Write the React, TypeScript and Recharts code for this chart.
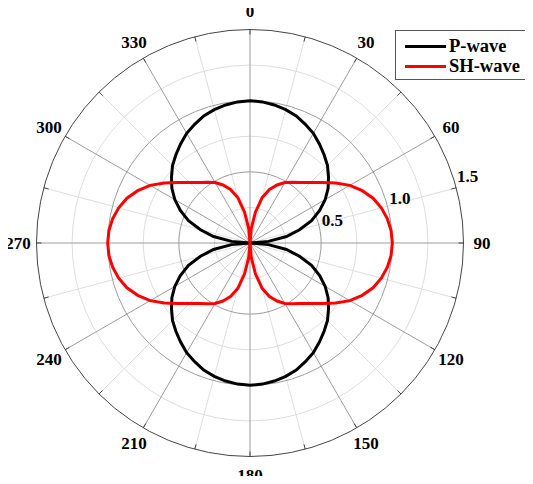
import { RadarChart, Radar, PolarGrid, PolarAngleAxis, PolarRadiusAxis } from 'recharts';

// compass angles, clockwise from the top, every 5 degrees
const ANGLES = [
  0, 5, 10, 15, 20, 25, 30, 35, 40, 45, 50, 55, 60, 65, 70, 75, 80, 85,
  90, 95, 100, 105, 110, 115, 120, 125, 130, 135, 140, 145, 150, 155, 160, 165, 170, 175,
  180, 185, 190, 195, 200, 205, 210, 215, 220, 225, 230, 235, 240, 245, 250, 255, 260, 265,
  270, 275, 280, 285, 290, 295, 300, 305, 310, 315, 320, 325, 330, 335, 340, 345, 350, 355,
];

const P_WAVE = [
  1.0, 0.995, 0.985, 0.97, 0.95, 0.92, 0.89, 0.85, 0.81, 0.77, 0.72, 0.67, 0.61, 0.54, 0.46, 0.36, 0.26, 0.13,
  0, 0.13, 0.26, 0.36, 0.46, 0.54, 0.61, 0.67, 0.72, 0.77, 0.81, 0.85, 0.89, 0.92, 0.95, 0.97, 0.985, 0.995,
  1.0, 0.995, 0.985, 0.97, 0.95, 0.92, 0.89, 0.85, 0.81, 0.77, 0.72, 0.67, 0.61, 0.54, 0.46, 0.36, 0.26, 0.13,
  0, 0.13, 0.26, 0.36, 0.46, 0.54, 0.61, 0.67, 0.72, 0.77, 0.81, 0.85, 0.89, 0.92, 0.95, 0.97, 0.985, 0.995,
];

const SH_WAVE = [
  0, 0.1, 0.22, 0.33, 0.4, 0.45, 0.49, 0.52, 0.555, 0.6, 0.66, 0.735, 0.81, 0.87, 0.92, 0.955, 0.98, 0.995,
  1.0, 0.995, 0.98, 0.955, 0.92, 0.87, 0.81, 0.735, 0.66, 0.6, 0.555, 0.52, 0.49, 0.45, 0.4, 0.33, 0.22, 0.1,
  0, 0.1, 0.22, 0.33, 0.4, 0.45, 0.49, 0.52, 0.555, 0.6, 0.66, 0.735, 0.81, 0.87, 0.92, 0.955, 0.98, 0.995,
  1.0, 0.995, 0.98, 0.955, 0.92, 0.87, 0.81, 0.735, 0.66, 0.6, 0.555, 0.52, 0.49, 0.45, 0.4, 0.33, 0.22, 0.1,
];

const R_MAX = 1.5;
const RADIAL_TICKS = [0, 0.5, 1.0, 1.5];
const MAJOR_RINGS = [0.5, 1.0];
const MINOR_RINGS = [0.25, 0.75, 1.25];
const MAJOR_SPOKES = [0, 30, 60, 90, 120, 150, 180, 210, 240, 270, 300, 330];
const MINOR_SPOKES = [15, 45, 75, 105, 135, 165, 195, 225, 255, 285, 315, 345];

const SERIES = [
  { key: 'p', name: 'P-wave', color: '#000000' },
  { key: 'sh', name: 'SH-wave', color: '#ff0000' },
];

const WIDTH = 533;
const HEIGHT = 484;
const CX = 250;
const CY = 243;
const OUTER_R = 213.5;
const LABEL_R = 232;
const FONT = '"Liberation Serif", "Times New Roman", serif';

const data = ANGLES.map((angle, i) => ({ angle, p: P_WAVE[i], sh: SH_WAVE[i] }));
const toPx = (v: number) => (v / R_MAX) * OUTER_R;
const toChartAngle = (a: number) => 90 - a;

const AngleTick = (props: any) => {
  const value = Number(props.payload?.value);
  if (value % 15 !== 0) return <g />;
  const rad = (value * Math.PI) / 180;
  const s = Math.sin(rad);
  const c = Math.cos(rad);
  return (
    <g>
      <line
        x1={CX + OUTER_R * s}
        y1={CY - OUTER_R * c}
        x2={CX + (OUTER_R - 5) * s}
        y2={CY - (OUTER_R - 5) * c}
        stroke="#444"
        strokeWidth={1}
      />
      {value % 30 === 0 && (
        <text
          x={CX + LABEL_R * s}
          y={CY - LABEL_R * c}
          textAnchor="middle"
          dominantBaseline="central"
          fontFamily={FONT}
          fontWeight="bold"
          fontSize={17}
          fill="#000"
        >
          {value}
        </text>
      )}
    </g>
  );
};

const RadiusTick = (props: any) => {
  const value = Number(props.payload?.value);
  if (!value) return <g />;
  return (
    <text x={props.x + 4} y={props.y + 5} textAnchor="start" fontFamily={FONT} fontWeight="bold" fontSize={17} fill="#000">
      {value.toFixed(1)}
    </text>
  );
};

export default function App() {
  return (
    <div style={{ position: 'relative', width: WIDTH, height: HEIGHT, margin: -8 }}>
      <RadarChart width={WIDTH} height={HEIGHT} cx={CX} cy={CY} innerRadius={0} outerRadius={OUTER_R} data={data} margin={{ top: 0, right: 0, bottom: 0, left: 0 }}>
        <PolarGrid
          gridType="circle"
          polarAngles={MINOR_SPOKES.map(toChartAngle)}
          polarRadius={MINOR_RINGS.map(toPx)}
          stroke="#dedede"
        />
        <PolarGrid
          gridType="circle"
          polarAngles={MAJOR_SPOKES.map(toChartAngle)}
          polarRadius={MAJOR_RINGS.map(toPx)}
          stroke="#9c9c9c"
        />
        <PolarAngleAxis dataKey="angle" axisLineType="circle" axisLine={{ stroke: '#444', strokeWidth: 1 }} tickLine={false} tick={AngleTick} />
        <PolarRadiusAxis
          angle={18}
          type="number"
          domain={[0, R_MAX]}
          allowDecimals
          allowDataOverflow
          ticks={RADIAL_TICKS as any}
          tickCount={RADIAL_TICKS.length}
          axisLine={false}
          tick={RadiusTick}
        />
        {SERIES.map((s) => (
          <Radar
            key={s.key}
            name={s.name}
            dataKey={s.key}
            stroke={s.color}
            strokeWidth={3}
            fill="none"
            fillOpacity={0}
            dot={false}
            isAnimationActive={false}
          />
        ))}
      </RadarChart>
      <div
        style={{
          position: 'absolute',
          left: 395,
          top: 30,
          width: 130,
          height: 48,
          border: '1px solid #555',
          background: '#fff',
          fontFamily: FONT,
          fontWeight: 'bold',
          fontSize: 18.5,
        }}
      >
        {SERIES.map((s, i) => (
          <div key={s.key} style={{ position: 'absolute', left: 9, top: 6 + i * 20, height: 18, display: 'flex', alignItems: 'center', whiteSpace: 'nowrap' }}>
            <span style={{ display: 'inline-block', width: 41, height: 3, background: s.color, marginRight: 3 }} />
            <span>{s.name}</span>
          </div>
        ))}
      </div>
    </div>
  );
}
